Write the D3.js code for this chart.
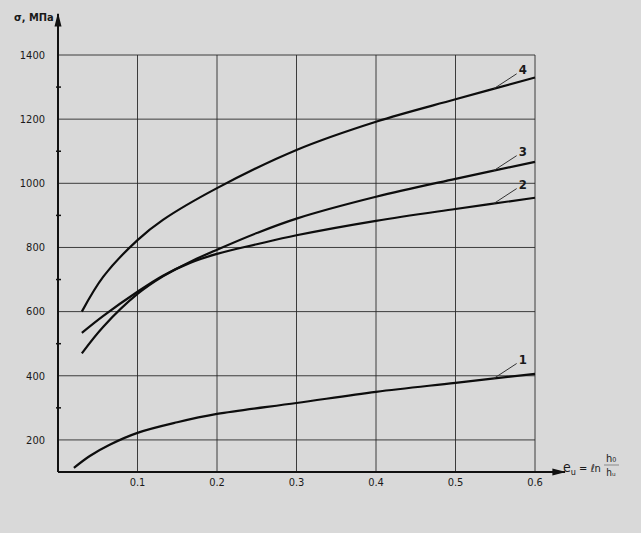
<!DOCTYPE html>
<html>
<head>
<meta charset="utf-8">
<script src="https://cdn.jsdelivr.net/npm/d3@7"></script>
<style>
  body { margin: 0; background: #d9d9d9; }
  svg { display: block; }
  text { font-family: "Liberation Sans Narrow", "DejaVu Sans Condensed", sans-serif; fill: #1a1a1a; }
</style>
</head>
<body>
<svg width="641" height="533"></svg>
<script>
// strain (eps) vs flow stress (sigma, MPa), curves 1..4
var eps1 = [0.02, 0.04, 0.065, 0.1, 0.15, 0.2, 0.3, 0.4, 0.5, 0.6];
var sig1 = [113, 150, 185, 222, 255, 281, 315, 350, 378, 406];

var eps2 = [0.03, 0.057, 0.1, 0.132, 0.166, 0.2, 0.25, 0.3, 0.4, 0.5, 0.6];
var sig2 = [534, 587, 662, 712, 752, 780, 810, 838, 883, 920, 955];

var eps3 = [0.03, 0.057, 0.1, 0.132, 0.166, 0.2, 0.25, 0.3, 0.4, 0.5, 0.6];
var sig3 = [470, 553, 655, 710, 755, 793, 845, 890, 958, 1014, 1067];

var eps4 = [0.03, 0.057, 0.1, 0.132, 0.2, 0.3, 0.4, 0.5, 0.6];
var sig4 = [600, 709, 823, 886, 985, 1104, 1192, 1262, 1330];

var curveNames = ["1", "2", "3", "4"];
var xTicks = [0.1, 0.2, 0.3, 0.4, 0.5, 0.6];
var yTicks = [200, 400, 600, 800, 1000, 1200, 1400];
var yMinor = [300, 500, 700, 900, 1100, 1300];

var series = [
  { name: curveNames[0], eps: eps1, sig: sig1 },
  { name: curveNames[1], eps: eps2, sig: sig2 },
  { name: curveNames[2], eps: eps3, sig: sig3 },
  { name: curveNames[3], eps: eps4, sig: sig4 }
];

var svg = d3.select("svg");

var x = d3.scaleLinear().domain([0, 0.6]).range([58, 535]);
var y = d3.scaleLinear().domain([100, 1400]).range([472, 55]);

// grid
var grid = svg.append("g")
    .attr("stroke", "#2a2a2a")
    .attr("stroke-width", 0.9);

grid.selectAll(".vg")
  .data(xTicks)
  .enter()
  .append("line")
    .attr("x1", function(d) { return x(d); })
    .attr("x2", function(d) { return x(d); })
    .attr("y1", y(100))
    .attr("y2", y(1400));

grid.selectAll(".hg")
  .data(yTicks)
  .enter()
  .append("line")
    .attr("x1", x(0))
    .attr("x2", x(0.6))
    .attr("y1", function(d) { return y(d); })
    .attr("y2", function(d) { return y(d); });

// axes with arrows
svg.append("defs").append("marker")
    .attr("id", "arr")
    .attr("viewBox", "0 0 10 10")
    .attr("refX", 9)
    .attr("refY", 5)
    .attr("markerWidth", 7)
    .attr("markerHeight", 7)
    .attr("orient", "auto")
  .append("path")
    .attr("d", "M0,2.5L10,5L0,7.5Z")
    .attr("fill", "#111");

svg.append("line")
    .attr("x1", x(0)).attr("y1", y(100))
    .attr("x2", x(0)).attr("y2", 14)
    .attr("stroke", "#111").attr("stroke-width", 2)
    .attr("marker-end", "url(#arr)");

svg.append("line")
    .attr("x1", x(0)).attr("y1", y(100))
    .attr("x2", 565).attr("y2", y(100))
    .attr("stroke", "#111").attr("stroke-width", 2)
    .attr("marker-end", "url(#arr)");

svg.selectAll(".minor")
  .data(yMinor)
  .enter()
  .append("line")
    .attr("x1", x(0) - 2)
    .attr("x2", x(0) + 3)
    .attr("y1", function(d) { return y(d); })
    .attr("y2", function(d) { return y(d); })
    .attr("stroke", "#111")
    .attr("stroke-width", 1.5);

// tick labels
svg.selectAll(".yl")
  .data(yTicks)
  .enter()
  .append("text")
    .attr("x", 45)
    .attr("y", function(d) { return y(d); })
    .attr("dy", "0.35em")
    .attr("text-anchor", "end")
    .attr("font-size", 11)
    .text(function(d) { return d; });

svg.selectAll(".xl")
  .data(xTicks)
  .enter()
  .append("text")
    .attr("x", function(d) { return x(d); })
    .attr("y", 486)
    .attr("text-anchor", "middle")
    .attr("font-size", 11)
    .text(function(d) { return d3.format(".1f")(d); });

// axis titles
svg.append("text")
    .attr("x", 14).attr("y", 21)
    .attr("font-size", 11)
    .attr("font-weight", "bold")
    .text("σ, МПа");

var xt = svg.append("text")
    .attr("x", 563).attr("y", 472)
    .attr("font-size", 14);
xt.append("tspan").text("e");
xt.append("tspan").attr("font-size", 9).attr("dy", 3).text("u");
xt.append("tspan").attr("font-size", 11).attr("dy", -3).text(" = ℓn");

svg.append("text")
    .attr("x", 611).attr("y", 462)
    .attr("text-anchor", "middle")
    .attr("font-size", 11)
    .text("h₀");
svg.append("line")
    .attr("x1", 604).attr("x2", 619)
    .attr("y1", 465).attr("y2", 465)
    .attr("stroke", "#555").attr("stroke-width", 0.6);
svg.append("text")
    .attr("x", 611).attr("y", 476)
    .attr("text-anchor", "middle")
    .attr("font-size", 10)
    .text("hᵤ");

// curves
var line = d3.line()
    .x(function(d) { return x(d[0]); })
    .y(function(d) { return y(d[1]); })
    .curve(d3.curveCatmullRom.alpha(0.5));

series.forEach(function(s) {
  var pts = d3.zip(s.eps, s.sig);
  svg.append("path")
      .attr("d", line(pts))
      .attr("fill", "none")
      .attr("stroke", "#0d0d0d")
      .attr("stroke-width", 2.2);

  // leader line and number
  var at = d3.scaleLinear().domain(s.eps).range(s.sig);
  var px = x(0.548), py = y(at(0.548));
  svg.append("line")
      .attr("x1", px).attr("y1", py)
      .attr("x2", px + 23).attr("y2", py - 15)
      .attr("stroke", "#333")
      .attr("stroke-width", 1);
  svg.append("text")
      .attr("x", px + 25).attr("y", py - 15)
      .attr("font-size", 13)
      .attr("font-weight", "bold")
      .attr("font-family", "DejaVu Sans Condensed, sans-serif")
      .text(s.name);
});
</script>
</body>
</html>
